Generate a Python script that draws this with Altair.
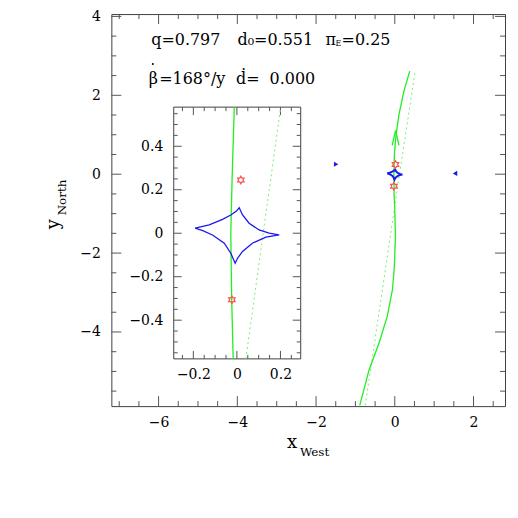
import altair as alt
import pandas as pd

# ------------------------------------------------------------------ data
# main panel tick values
x_major = [-6, -4, -2, 0, 2]
x_minor = [-7, -6.5, -5.5, -5, -4.5, -3.5, -3, -2.5, -1.5, -1, -0.5, 0.5, 1, 1.5, 2.5]
y_major = [-4, -2, 0, 2, 4]
y_minor = [-5.5, -5, -4.5, -3.5, -3, -2.5, -1.5, -1, -0.5, 0.5, 1, 1.5, 2.5, 3, 3.5]
# inset tick values
ix_major = [-0.2, 0, 0.2]
ix_minor = [-0.25, -0.15, -0.1, -0.05, 0.05, 0.1, 0.15, 0.25]
iy_major = [-0.4, -0.2, 0, 0.2, 0.4]
iy_minor = [-0.55, -0.5, -0.45, -0.35, -0.3, -0.25, -0.15, -0.1, -0.05,
            0.05, 0.1, 0.15, 0.25, 0.3, 0.35, 0.45, 0.5, 0.55]

# source trajectory (solid) and straight path (dotted), main panel
traj_x = [-0.89, -0.65, -0.40, -0.19, -0.06, -0.01, 0.016, 0.0, -0.018, -0.022, -0.01, 0.025, 0.109, 0.235, 0.38]
traj_y = [-5.86, -4.95, -4.28, -3.6, -2.93, -2.34, -1.58, -0.91, -0.5, 0.0, 0.5, 0.94, 1.53, 2.12, 2.61]
path_x = [-0.75, 0.12, 0.51]
path_y = [-5.86, 0.0, 2.56]
# same curves inside the inset window
inset_traj_x = [-0.017, -0.024, -0.028, -0.022, -0.012]
inset_traj_y = [-0.578, -0.3, 0.0, 0.25, 0.58]
inset_path_x = [0.041, 0.201]
inset_path_y = [-0.578, 0.58]
# central caustic
caustic_x = [-0.192, -0.127, -0.066, -0.028, -0.002, 0.0105, 0.026, 0.056, 0.102, 0.148, 0.194,
             0.133, 0.071, 0.026, 0.003, -0.008, -0.028, -0.058, -0.112, -0.157, -0.192]
caustic_y = [0.023, 0.038, 0.064, 0.084, 0.102, 0.117, 0.084, 0.046, 0.015, 0.0, -0.008,
             -0.018, -0.046, -0.084, -0.115, -0.138, -0.092, -0.046, -0.008, 0.012, 0.023]
# lens positions (stars)
star_x = [0.018, -0.023]
star_y = [0.245, -0.306]
# small triangular caustics
tri_x = [-1.49, 1.53]
tri_y = [0.25, 0.02]
tri_shape = ["triangle-right", "triangle-left"]
# direction arrow on trajectory
arrow_x = [0.02]
arrow_y = [0.92]

# texts
param_q = "q=0.797"
param_d = "d\u2080=0.551"
param_pi = "\u03c0"
param_pi_sub = "E"
param_pi_val = "=0.25"
param_beta = "\u03b2"
param_beta_val = "=168\u00b0/y"
param_ddot = "\u1e0b=\u00a0\u00a00.000"
xtitle, xtitle_sub = "x", "West"
ytitle, ytitle_sub = "y", "North"

# ------------------------------------------------------------------ style / geometry
SERIF = "DejaVu Serif"
W, H = 395, 393.4
IN_L, IN_R, IN_T, IN_B = 62.6, 190.0, 93.4, 346.0
GREEN = "#22ee22"
GREEN_L = "#77ee77"
BLUE = "#1a1aee"
RED = "#ff5050"
TICK = "#555555"
FRAME = "#404040"

STAR = "M0,-1L0.29,-0.5L0.87,-0.5L0.58,0L0.87,0.5L0.29,0.5L0,1L-0.29,0.5L-0.87,0.5L-0.58,0L-0.87,-0.5L-0.29,-0.5Z"
ARROW = "M-0.45,1L0,-1L0.45,1"

main_xs = alt.Scale(domain=[-7.2, 2.8], nice=False, zero=False)
main_ys = alt.Scale(domain=[-5.88, 4.06], nice=False, zero=False)
inset_xs = alt.Scale(domain=[-0.29, 0.293], range=[IN_L, IN_R], nice=False, zero=False)
inset_ys = alt.Scale(domain=[-0.578, 0.58], range=[IN_B, IN_T], nice=False, zero=False)

ax_common = dict(ticks=False, tickSize=0, domain=False, grid=False, title=None, format="~g",
                 labelFont=SERIF, labelFontSize=14, labelColor="black",
                 labelFlush=False, labelOverlap=False, labelBound=False)
main_xa = alt.Axis(values=x_major, orient="bottom", labelPadding=9, **ax_common)
main_ya = alt.Axis(values=y_major, orient="left", labelPadding=11, **ax_common)
inset_xa = alt.Axis(values=ix_major, orient="bottom", offset=-(H - IN_B), labelPadding=9, **ax_common)
inset_ya = alt.Axis(values=iy_major, orient="left", offset=-IN_L, labelPadding=11, **ax_common)


def mx(f):
    return alt.X(f, type="quantitative", scale=main_xs, axis=main_xa)


def my(f):
    return alt.Y(f, type="quantitative", scale=main_ys, axis=main_ya)


def ix(f):
    return alt.X(f, type="quantitative", scale=inset_xs, axis=inset_xa)


def iy(f):
    return alt.Y(f, type="quantitative", scale=inset_ys, axis=inset_ya)


def xticks(vals, X, Y, edge, length):
    return alt.Chart(pd.DataFrame({"v": vals})).mark_rule(color=TICK, strokeWidth=1).encode(
        x=X("v"), y=alt.value(edge), y2=alt.value(edge + length))


def yticks(vals, X, Y, edge, length):
    return alt.Chart(pd.DataFrame({"v": vals})).mark_rule(color=TICK, strokeWidth=1).encode(
        y=Y("v"), x=alt.value(edge), x2=alt.value(edge + length))


def label(text, px, py, size, angle=0, baseline="middle"):
    return alt.Chart(pd.DataFrame({"t": [text]})).mark_text(
        font=SERIF, fontSize=size, align="left", baseline=baseline, angle=angle, color="black"
    ).encode(x=alt.value(px), y=alt.value(py), text="t:N")


def line_df(xs, ys):
    return pd.DataFrame({"x": xs, "y": ys, "i": list(range(len(xs)))})


# accent dot above beta (drawn as a tiny symbol so it sits just above the glyph)
beta_dot = alt.Chart(pd.DataFrame({"t": ["dot"]})).mark_point(
    shape="circle", filled=True, color="black", size=4, opacity=1).encode(
    x=alt.value(41.6), y=alt.value(50))

# ------------------------------------------------------------------ main panel
main_layers = [
    xticks(x_major, mx, my, H, -10), xticks(x_minor, mx, my, H, -5),
    xticks(x_major, mx, my, 0, 10), xticks(x_minor, mx, my, 0, 5),
    yticks(y_major, mx, my, 0, 10), yticks(y_minor, mx, my, 0, 5),
    yticks(y_major, mx, my, W, -10), yticks(y_minor, mx, my, W, -5),
    alt.Chart(line_df(path_x, path_y)).mark_line(color=GREEN_L, strokeWidth=1, strokeDash=[2, 3]).encode(
        x=mx("x"), y=my("y"), order="i:Q"),
    alt.Chart(line_df(traj_x, traj_y)).mark_line(color=GREEN, strokeWidth=1.3).encode(
        x=mx("x"), y=my("y"), order="i:Q"),
    alt.Chart(pd.DataFrame({"x": arrow_x, "y": arrow_y})).mark_point(
        shape=ARROW, filled=False, color=GREEN, strokeWidth=1.3, size=225, opacity=1).encode(
        x=mx("x"), y=my("y")),
    alt.Chart(line_df(caustic_x, caustic_y)).mark_line(color=BLUE, strokeWidth=2).encode(
        x=mx("x"), y=my("y"), order="i:Q"),
    alt.Chart(pd.DataFrame({"x": star_x, "y": star_y})).mark_point(
        shape=STAR, filled=False, color=RED, strokeWidth=1.2, size=56, opacity=1).encode(
        x=mx("x"), y=my("y")),
    alt.Chart(pd.DataFrame({"x": tri_x, "y": tri_y, "s": tri_shape})).mark_point(
        filled=True, color=BLUE, size=26, opacity=1).encode(
        x=mx("x"), y=my("y"), shape=alt.Shape("s:N", scale=None)),
    label(param_q, 40, 26, 16),
    label(param_d, 126.6, 26, 16),
    label(param_pi, 215, 26, 16),
    label(param_pi_sub, 225, 30, 8),
    label(param_pi_val, 231, 26, 16),
    label(param_beta, 37.6, 65, 16),
    beta_dot,
    label(param_beta_val, 48, 65, 16),
    label(param_ddot, 125, 65, 16),
    label(xtitle, 176.3, 435.7, 18, baseline="alphabetic"),
    label(xtitle_sub, 189.3, 443.7, 12, baseline="alphabetic"),
    label(ytitle, -52.7, 216, 18, angle=270, baseline="alphabetic"),
    label(ytitle_sub, -45.7, 202, 12, angle=270, baseline="alphabetic"),
]
main = alt.layer(*main_layers)

# ------------------------------------------------------------------ inset panel
frame_df = pd.DataFrame({"x0": [inset_xs.domain[0]], "x1": [inset_xs.domain[1]],
                         "y0": [inset_ys.domain[0]], "y1": [inset_ys.domain[1]]})
inset_layers = [
    alt.Chart(frame_df).mark_rect(fill="white", stroke=FRAME, strokeWidth=1).encode(
        x=ix("x0"), x2="x1", y=iy("y0"), y2="y1"),
    xticks(ix_major, ix, iy, IN_B, -8), xticks(ix_minor, ix, iy, IN_B, -4),
    xticks(ix_major, ix, iy, IN_T, 8), xticks(ix_minor, ix, iy, IN_T, 4),
    yticks(iy_major, ix, iy, IN_L, 8), yticks(iy_minor, ix, iy, IN_L, 4),
    yticks(iy_major, ix, iy, IN_R, -8), yticks(iy_minor, ix, iy, IN_R, -4),
    alt.Chart(line_df(inset_path_x, inset_path_y)).mark_line(color=GREEN_L, strokeWidth=1, strokeDash=[2, 3]).encode(
        x=ix("x"), y=iy("y"), order="i:Q"),
    alt.Chart(line_df(inset_traj_x, inset_traj_y)).mark_line(color=GREEN, strokeWidth=1.3).encode(
        x=ix("x"), y=iy("y"), order="i:Q"),
    alt.Chart(line_df(caustic_x, caustic_y)).mark_line(color=BLUE, strokeWidth=1.3).encode(
        x=ix("x"), y=iy("y"), order="i:Q"),
    alt.Chart(pd.DataFrame({"x": star_x, "y": star_y})).mark_point(
        shape=STAR, filled=False, color=RED, strokeWidth=1.2, size=56, opacity=1).encode(
        x=ix("x"), y=iy("y")),
]
inset = alt.layer(*inset_layers)

chart = alt.layer(main, inset).resolve_scale(x="independent", y="independent").properties(
    width=W, height=H,
    padding={"left": 103.7, "top": 5.3, "right": 5, "bottom": 60},
    autosize=alt.AutoSizeParams(type="none"),
).configure_view(stroke=FRAME, strokeWidth=1)

chart.save("out.html", embed_options={"renderer": "svg", "actions": False})
